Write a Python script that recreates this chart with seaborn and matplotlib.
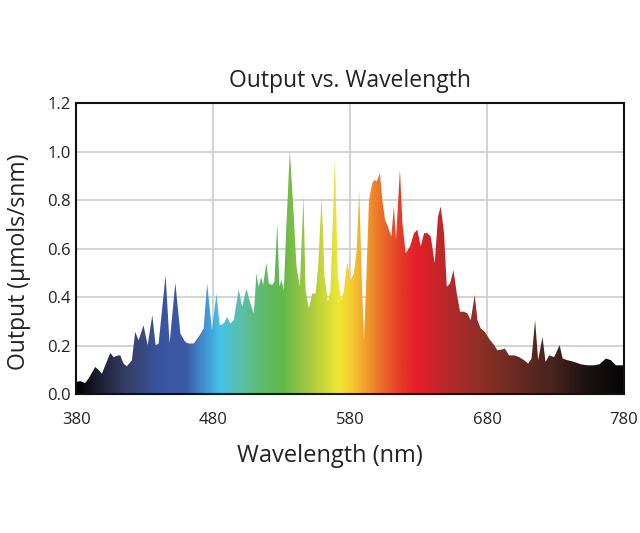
import numpy as np
import pandas as pd
import matplotlib
matplotlib.use("Agg")
import matplotlib.pyplot as plt
import seaborn as sns
from matplotlib.colors import LinearSegmentedColormap, Normalize

# Spectrum (nm, µmols/snm)
wavelength = [
    380.0, 382.9, 386.6, 389.0, 393.9, 396.3, 398.8, 404.9, 407.3, 410.9,
    412.2, 414.6, 417.0, 420.7, 423.1, 425.6, 429.2, 432.2, 435.6, 438.0,
    440.2, 445.3, 448.2, 452.4, 456.1, 459.7, 462.1, 465.8, 469.4, 473.1,
    475.6, 479.2, 482.4, 484.8, 487.7, 490.2, 492.6, 495.0, 498.7, 501.2,
    504.3, 507.2, 509.7, 511.6, 513.3, 515.1, 516.5, 518.9, 520.6, 523.1,
    524.8, 526.8, 528.4, 529.9, 531.6, 533.6, 536.0, 538.5, 540.9, 543.3,
    546.0, 547.5, 549.9, 552.4, 554.8, 556.7, 559.2, 561.4, 563.8, 565.7,
    568.9, 571.1, 573.5, 575.5, 577.9, 580.4, 582.8, 584.8, 586.7, 588.4,
    590.1, 592.1, 593.8, 596.2, 597.9, 599.4, 601.8, 603.5, 605.5, 607.6,
    610.1, 612.0, 613.5, 616.4, 618.2, 620.6, 623.7, 626.7, 629.1, 631.6,
    634.0, 636.5, 638.9, 641.8, 644.2, 646.2, 648.6, 650.6, 653.0, 655.5,
    657.9, 660.3, 663.2, 665.7, 668.1, 671.0, 673.0, 675.4, 678.4, 681.5,
    685.2, 687.6, 690.6, 693.0, 696.1, 699.8, 703.4, 707.1, 710.0, 712.5,
    715.1, 717.3, 720.5, 722.7, 725.4, 729.0, 733.0, 735.2, 738.8, 743.7,
    748.6, 753.5, 758.3, 762.0, 766.8, 770.5, 774.1, 780.0,
]
output = [
    0.051, 0.055, 0.047, 0.065, 0.113, 0.102, 0.085, 0.171, 0.154, 0.161,
    0.161, 0.127, 0.116, 0.141, 0.258, 0.223, 0.285, 0.203, 0.327, 0.203,
    0.210, 0.492, 0.210, 0.461, 0.251, 0.216, 0.210, 0.210, 0.237, 0.272,
    0.458, 0.265, 0.416, 0.285, 0.292, 0.320, 0.292, 0.306, 0.433, 0.361,
    0.437, 0.375, 0.334, 0.499, 0.444, 0.485, 0.451, 0.543, 0.458, 0.451,
    0.465, 0.706, 0.444, 0.472, 0.430, 0.706, 1.003, 0.775, 0.527, 0.444,
    0.816, 0.430, 0.354, 0.416, 0.416, 0.527, 0.816, 0.485, 0.382, 0.430,
    0.975, 0.485, 0.389, 0.430, 0.548, 0.472, 0.499, 0.596, 0.844, 0.499,
    0.223, 0.513, 0.803, 0.872, 0.885, 0.878, 0.913, 0.803, 0.720, 0.692,
    0.651, 0.775, 0.637, 0.927, 0.706, 0.582, 0.610, 0.665, 0.679, 0.610,
    0.665, 0.665, 0.651, 0.541, 0.734, 0.775, 0.665, 0.444, 0.458, 0.513,
    0.416, 0.341, 0.341, 0.334, 0.306, 0.410, 0.306, 0.272, 0.258, 0.230,
    0.203, 0.182, 0.185, 0.189, 0.161, 0.161, 0.154, 0.141, 0.127, 0.148,
    0.306, 0.141, 0.237, 0.134, 0.161, 0.154, 0.203, 0.148, 0.141, 0.134,
    0.124, 0.120, 0.120, 0.124, 0.148, 0.141, 0.120, 0.120,
]

# colour stops of the spectrum fill
stop_nm = [380, 395, 417, 441, 460, 473, 485, 502, 517, 531, 550, 572, 582,
           600, 617, 629, 654, 678, 702, 727, 751, 780]
stop_color = ["#000000", "#1c1d2e", "#36406a", "#3a55a0", "#3d5aa8", "#4090d0",
              "#45c3ea", "#5bbfa0", "#5fbb6a", "#62b848", "#a8c840", "#f0e830",
              "#f5c830", "#ec7a28", "#e53a28", "#e51e28", "#b22a2a", "#8a3026",
              "#6a2a22", "#4a2420", "#201414", "#050505"]

x_ticks = [380, 480, 580, 680, 780]
y_ticks = [0.0, 0.2, 0.4, 0.6, 0.8, 1.0, 1.2]

df = pd.DataFrame({"wavelength": wavelength, "output": output})

sns.set_theme(style="white")
plt.rcParams["font.family"] = ["Open Sans", "DejaVu Sans"]

fig = plt.figure(figsize=(6.4, 5.33), dpi=100)
ax = fig.add_axes([0.119, 0.26, 0.856, 0.546])

sns.lineplot(data=df, x="wavelength", y="output", ax=ax, color="black",
             linewidth=0, zorder=3)

# gradient image clipped to the area under the curve
poly = ax.fill_between(df["wavelength"], df["output"], 0, color="none", zorder=2)
span = (stop_nm[-1] - stop_nm[0])
cmap = LinearSegmentedColormap.from_list(
    "spectrum", [((n - stop_nm[0]) / span, c) for n, c in zip(stop_nm, stop_color)])
grad = np.linspace(380, 780, 1200).reshape(1, -1)
im = ax.imshow(grad, extent=[380, 780, 0, 1.2], aspect="auto", cmap=cmap,
               norm=Normalize(380, 780), origin="lower", zorder=2,
               interpolation="bilinear")
im.set_clip_path(poly.get_paths()[0], transform=ax.transData)

ax.set_xlim(380, 780)
ax.set_ylim(0, 1.2)
ax.set_xticks(x_ticks)
ax.set_yticks(y_ticks)
ax.set_yticklabels([f"{v:.1f}" for v in y_ticks])
ax.grid(True, color="#cccccc", linewidth=1.2)
ax.set_axisbelow(True)
ax.tick_params(axis="both", length=0, labelsize=12, colors="#222222")
ax.tick_params(axis="x", pad=13)
ax.tick_params(axis="y", pad=4)
for s in ax.spines.values():
    s.set_color("#111111")
    s.set_linewidth(1.5)

ax.set_title("Output vs. Wavelength", fontsize=16.5, pad=12, color="#222222")
ax.set_xlabel("Wavelength (nm)", fontsize=17, labelpad=8, color="#222222")
ax.xaxis.set_label_coords(0.464, -0.17)
ax.set_ylabel("Output (µmols/snm)", fontsize=16.5, labelpad=12, color="#222222")
ax.yaxis.set_label_coords(-0.082, 0.455)

fig.savefig("out.png", dpi=100, facecolor="white")
plt.close(fig)
